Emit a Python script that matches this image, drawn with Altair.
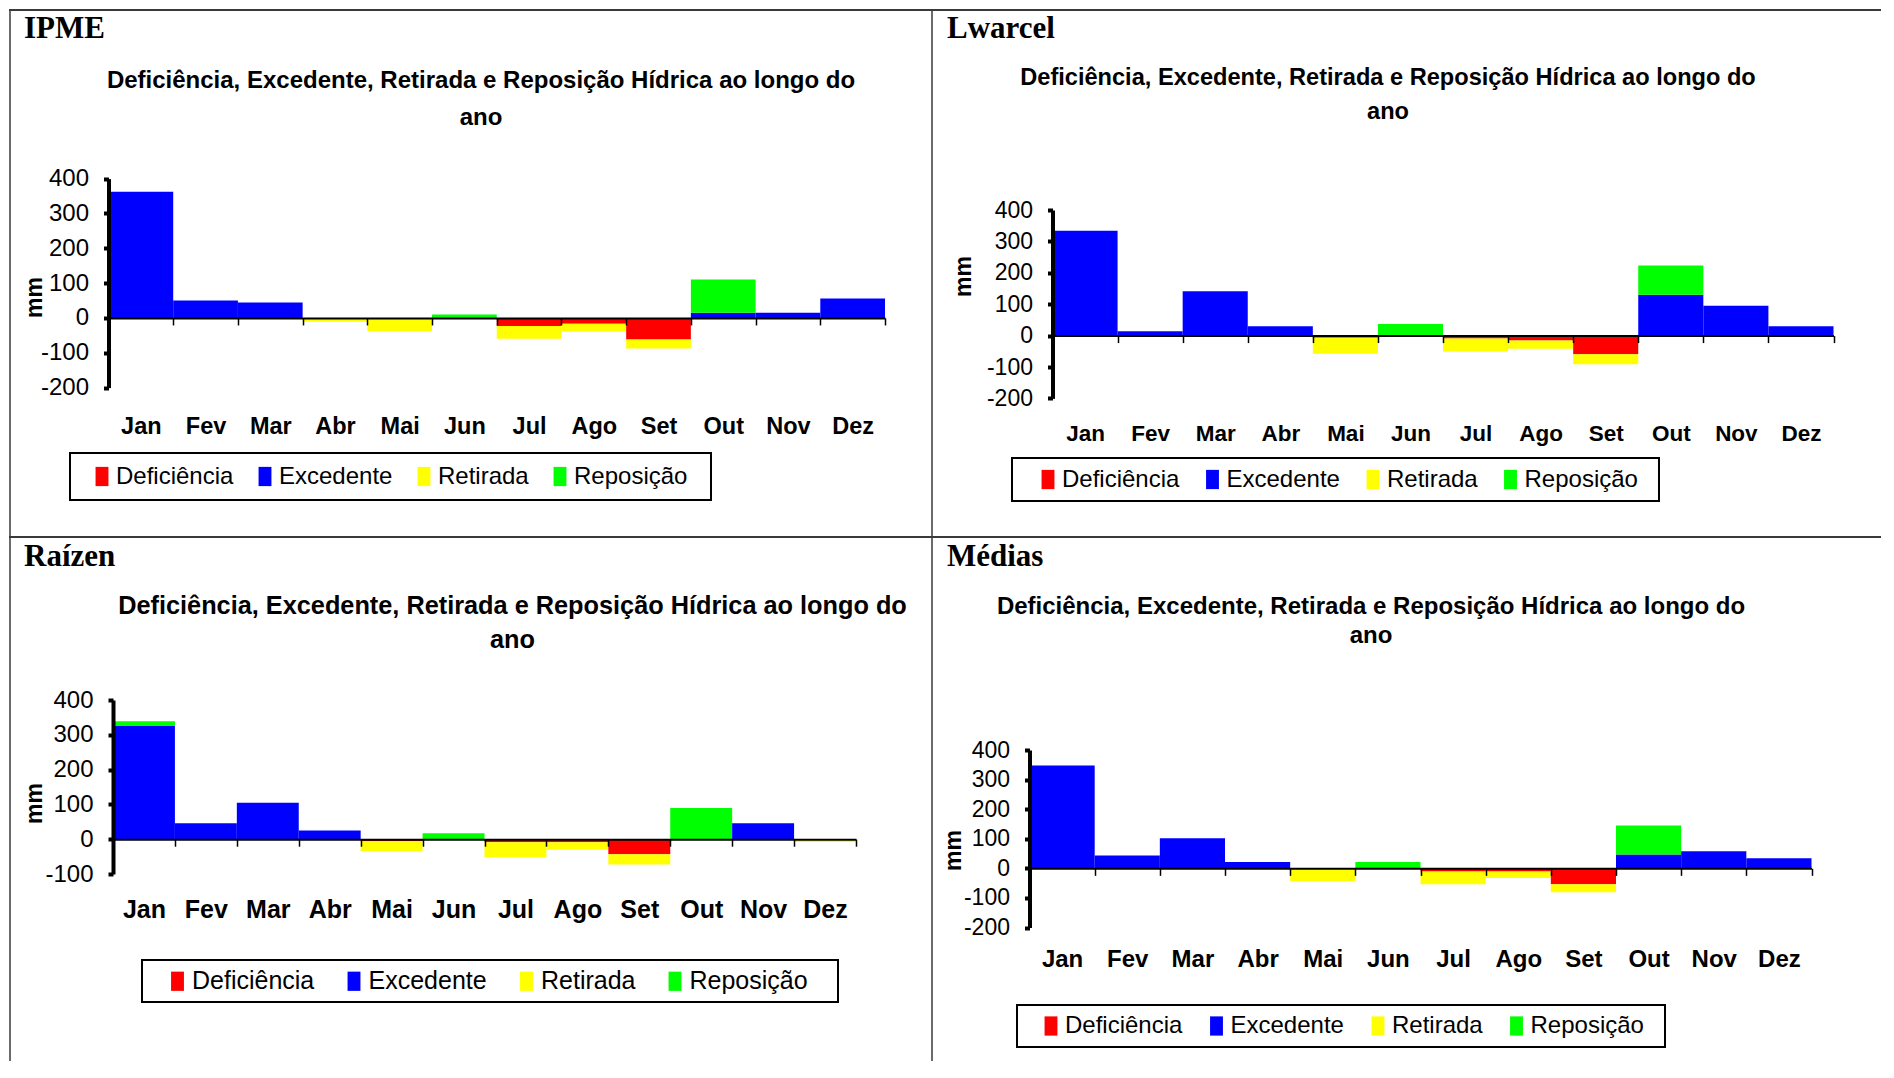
import altair as alt
import pandas as pd

MONTHS = ["Jan", "Fev", "Mar", "Abr", "Mai", "Jun", "Jul", "Ago", "Set", "Out", "Nov", "Dez"]
SERIES = ["Deficiência", "Excedente", "Retirada", "Reposição"]
COLORS = ["#FF0000", "#0000FF", "#FFFF00", "#00FF00"]
TITLE = "Deficiência,  Excedente, Retirada e Reposição Hídrica ao longo do\nano"

# IPME
IPME_DEF = [0, 0, 0, 0, -4, 0, -23, -17, -62, 0, 0, 0]
IPME_EXC = [362, 50, 44, 0, 0, 0, 0, 0, 0, 15, 15, 56]
IPME_RET = [0, 0, 0, -11, -34, 0, -37, -22, -26, 0, 0, 0]
IPME_REP = [0, 0, 0, 0, 0, 10, 0, 0, 0, 95, 0, 0]

# Lwarcel
LW_DEF = [0, 0, 0, 0, -7, 0, -9, -16, -59, 0, 0, 0]
LW_EXC = [334, 14, 141, 30, 0, 0, 0, 0, 0, 130, 95, 30]
LW_RET = [0, 0, 0, 0, -51, 0, -42, -26, -32, 0, 0, 0]
LW_REP = [0, 0, 0, 0, 0, 37, 0, 0, 0, 93, 0, 0]

# Raízen
RA_DEF = [0, 0, 0, 0, -6, 0, -9, -9, -43, 0, 0, 0]
RA_EXC = [325, 46, 105, 25, 0, 0, 0, 0, 0, 0, 46, 0]
RA_RET = [0, 0, 0, 0, -28, 0, -43, -21, -30, 0, 0, -8]
RA_REP = [14, 0, 0, 0, 0, 17, 0, 0, 0, 90, 0, 0]

# Médias
ME_DEF = [0, 0, 0, 0, 0, 0, -11, -11, -54, 0, 0, 0]
ME_EXC = [348, 43, 102, 21, 0, 0, 0, 0, 0, 47, 58, 34]
ME_RET = [0, 0, 0, 0, -43, 0, -43, -22, -27, 0, 0, 0]
ME_REP = [0, 0, 0, 0, 0, 21, 0, 0, 0, 98, 0, 0]

FONT = "Liberation Sans, Arial, sans-serif"
SERIF = "Liberation Serif, Times New Roman, serif"
NO_VIEW = alt.ViewBackground(stroke="transparent", strokeWidth=0, strokeOpacity=0)


def make_df(d, e, r, p):
    rows = []
    for i, m in enumerate(MONTHS):
        for k, (s, vals) in enumerate(zip(SERIES, [d, e, r, p])):
            rows.append({"mes": m, "serie": s, "ordem": k, "valor": vals[i]})
    return pd.DataFrame(rows)


def panel(name, df, c):
    W, H, dy = c["W"], c["H"], c["dy"]
    ymin, ymax = c["ymin"], c["ymax"]
    y_top, y_bot = c["y_top"] + dy, c["y_bot"] + dy
    zero_y = y_top + (y_bot - y_top) * ymax / (ymax - ymin)
    mfs = c["mfs"]
    tick = 7
    lab_pad = c["month_y"] + dy - 0.432 * mfs - zero_y - tick

    x_scale = alt.Scale(domain=MONTHS, range=[c["ax_x"], c["x_end"]], paddingInner=0, paddingOuter=0)
    y_scale = alt.Scale(domain=[ymin, ymax], range=[y_bot, y_top], nice=False, zero=False)

    bx0, by0, bx1, by1 = c["box"]
    by0, by1 = by0 + dy, by1 + dy

    bars = alt.Chart(df).mark_bar().encode(
        x=alt.X("mes:N", scale=x_scale, sort=MONTHS, axis=alt.Axis(
            title=None, orient="bottom", offset=zero_y - H, domainColor="black", domainWidth=2,
            tickColor="black", tickWidth=1.5, tickSize=tick, tickBand="extent",
            labelFont=FONT, labelFontWeight="bold", labelFontSize=mfs, labelColor="black",
            labelPadding=lab_pad, labelAngle=0, grid=False, zindex=1)),
        y=alt.Y("valor:Q", stack="zero", scale=y_scale, axis=alt.Axis(
            title="mm", values=list(range(ymin, ymax + 1, 100)), orient="left", offset=-c["ax_x"],
            domainColor="black", domainWidth=4, tickColor="black", tickWidth=4, tickSize=5,
            labelFont=FONT, labelFontSize=c["yfs"], labelColor="black", labelPadding=15,
            labelExpr="'' + datum.value", labelOverlap=False, labelFlush=False,
            titleFont=FONT, titleFontSize=23, titleFontWeight="bold", titleColor="black",
            titleX=c["mm_x"] - c["ax_x"], titleY=c["mm_y"] + dy, titleAngle=270,
            titleAlign="center", titleBaseline="middle", grid=False, zindex=1)),
        color=alt.Color("serie:N", scale=alt.Scale(domain=SERIES, range=COLORS), legend=alt.Legend(
            title=None, orient="none", legendX=bx0 + c["lx"],
            legendY=(by0 + by1) / 2 - c["lfs"] / 2,
            direction="horizontal", columns=4,
            symbolType="M-0.67,-1L0.67,-1L0.67,1L-0.67,1Z", symbolSize=370, symbolStrokeWidth=0,
            symbolOpacity=1, labelFont=FONT, labelFontSize=c["lfs"], labelColor="black",
            labelOffset=2, columnPadding=c["cp"], padding=0)),
        order=alt.Order("ordem:Q", sort="ascending"),
    )

    one = pd.DataFrame({"t": [name]})
    label = alt.Chart(one).mark_text(font=SERIF, fontWeight="bold", fontSize=31, align="left",
                                     baseline="alphabetic", color="black").encode(
        text="t:N", x=alt.value(c["label"][0]), y=alt.value(c["label"][1] + dy))

    title = alt.Chart(pd.DataFrame({"t": [TITLE]})).mark_text(
        font=FONT, fontWeight="bold", fontSize=c["tfs"], align="center", baseline="alphabetic",
        lineBreak="\n", lineHeight=c["lh"], color="black").encode(
        text="t:N", x=alt.value(c["title_x"]), y=alt.value(c["title_y"] + dy))

    box = alt.Chart(one).mark_rect(fillOpacity=0, stroke="black", strokeWidth=2).encode(
        x=alt.value(bx0), x2=alt.value(bx1), y=alt.value(by0), y2=alt.value(by1))

    hline = alt.Chart(one).mark_rule(color="#3a3a3a", strokeWidth=2).encode(
        x=alt.value(0), x2=alt.value(W), y=alt.value(1))
    vline = alt.Chart(one).mark_rule(color="#3a3a3a", strokeWidth=1.5).encode(
        x=alt.value(1), y=alt.value(0), y2=alt.value(H))

    return alt.layer(hline, vline, box, bars, label, title).properties(
        width=W, height=H, view=NO_VIEW)


CFG = {
    "IPME": dict(W=922, H=527, dy=0, label=(15, 28.5), title_x=472, title_y=78.5, lh=37, tfs=24,
                 ax_x=99.5, x_end=876, y_top=169.6, y_bot=378.6, ymin=-200, ymax=400,
                 month_y=415.8, mfs=23.5, yfs=24, mm_x=25, mm_y=288,
                 box=(61, 444, 702, 491), lx=20, lfs=24, cp=19),
    "Lwarcel": dict(W=950, H=527, dy=0, label=(16, 28.5), title_x=457, title_y=75.5, lh=34, tfs=23.6,
                    ax_x=121.5, x_end=902.5, y_top=201, y_bot=389.4, ymin=-200, ymax=400,
                    month_y=422.8, mfs=22.5, yfs=23, mm_x=32.5, mm_y=267,
                    box=(81, 449, 728, 492), lx=24, lfs=24, cp=20.5),
    "Raízen": dict(W=922, H=525, dy=0, label=(15, 29.5), title_x=503.5, title_y=78, lh=34, tfs=25.3,
                   ax_x=104, x_end=847, y_top=164, y_bot=338, ymin=-100, ymax=400,
                   month_y=372, mfs=25, yfs=24, mm_x=25, mm_y=267,
                   box=(133, 424, 829, 466), lx=23, lfs=25, cp=26.5),
    "Médias": dict(W=950, H=525, dy=0, label=(16, 29.5), title_x=440, title_y=77.5, lh=29, tfs=24,
                   ax_x=98.5, x_end=880.5, y_top=214, y_bot=391.5, ymin=-200, ymax=400,
                   month_y=422, mfs=24, yfs=23, mm_x=22.5, mm_y=314,
                   box=(86, 469, 734, 511), lx=22, lfs=24, cp=21.5),
}

p1 = panel("IPME", make_df(IPME_DEF, IPME_EXC, IPME_RET, IPME_REP), CFG["IPME"])
p2 = panel("Lwarcel", make_df(LW_DEF, LW_EXC, LW_RET, LW_REP), CFG["Lwarcel"])
p3 = panel("Raízen", make_df(RA_DEF, RA_EXC, RA_RET, RA_REP), CFG["Raízen"])
p4 = panel("Médias", make_df(ME_DEF, ME_EXC, ME_RET, ME_REP), CFG["Médias"])

chart = alt.concat(p1, p2, p3, p4, columns=2, spacing=0, bounds="flush").resolve_scale(
    x="independent", y="independent", color="independent").resolve_legend(
    color="independent").resolve_axis(x="independent", y="independent").properties(
    padding=0).configure_view(stroke="transparent", strokeWidth=0).configure(background="white")

chart.save("out.html", embed_options={"renderer": "svg", "actions": False})
